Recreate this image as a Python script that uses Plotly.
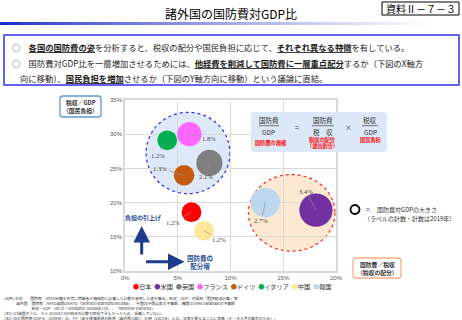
import plotly.graph_objects as go

# ---------------- data ----------------
countries = ["日本", "米国", "英国", "フランス", "ドイツ", "イタリア", "中国", "韓国"]
defense_to_tax = [6.3, 18.1, 8.0, 6.1, 5.6, 4.0, 7.5, 13.3]      # 国防費／税収 (%)
tax_to_gdp = [18.6, 18.9, 25.8, 30.0, 24.0, 29.1, 15.9, 20.0]     # 税収／GDP (%)
defense_to_gdp = [1.2, 3.4, 2.1, 1.8, 1.3, 1.2, 1.2, 2.7]         # 国防費／GDP (%)
colors = ["#ff0000", "#7030a0", "#7f7f7f", "#ff66ff", "#c55a11", "#00b050", "#ffe699", "#bdd7ee"]
x_ticks = [0, 5, 10, 15, 20]
y_ticks = [10, 15, 20, 25, 30, 35]

# label offsets (pixels, layout only)
label_dx = [-18, -10, -3, 20, -24, -9, 15, -4]
label_dy = [10, -19, 14, 4, -7, 15, 9, 18]

FONT = "Noto Sans CJK JP"
W, H = 462, 320
L, R, T, B = 125, 336, 100, 271


def px(xp):
    return (xp - L) / (R - L)


def py(yp):
    return (B - yp) / (B - T)


fig = go.Figure()
fig.add_trace(go.Scatter(
    x=defense_to_tax, y=tax_to_gdp, mode="markers",
    marker=dict(size=defense_to_gdp, sizemode="area", sizeref=1.2 / 196,
                color=colors, line=dict(width=0), opacity=1),
    text=countries, hoverinfo="text", showlegend=False,
))

shapes = []
annotations = []


def ann(text, x, y, size, color="#000000", xanchor="center", **kw):
    annotations.append(dict(text=text, x=px(x), y=py(y), xref="paper", yref="paper",
                            showarrow=False, xanchor=xanchor, yanchor="middle",
                            font=dict(family=FONT, size=size, color=color), **kw))


def rrect(x0, y0, x1, y1, r, line_color, fill="rgba(0,0,0,0)", width=1.2):
    p = (f"M {px(x0 + r)},{py(y0)} L {px(x1 - r)},{py(y0)} Q {px(x1)},{py(y0)} {px(x1)},{py(y0 + r)} "
         f"L {px(x1)},{py(y1 - r)} Q {px(x1)},{py(y1)} {px(x1 - r)},{py(y1)} "
         f"L {px(x0 + r)},{py(y1)} Q {px(x0)},{py(y1)} {px(x0)},{py(y1 - r)} "
         f"L {px(x0)},{py(y0 + r)} Q {px(x0)},{py(y0)} {px(x0 + r)},{py(y0)} Z")
    shapes.append(dict(type="path", path=p, xref="paper", yref="paper",
                       line=dict(color=line_color, width=width), fillcolor=fill, layer="above"))


# group ellipses (data coords)
shapes.append(dict(type="circle", xref="x", yref="y", x0=2.0, x1=9.95, y0=21.3, y1=33.2,
                   fillcolor="#dde8f8", line=dict(color="#2b2bff", width=1.2, dash="dot"), layer="below"))
shapes.append(dict(type="circle", xref="x", yref="y", x0=11.7, x1=19.9, y0=12.9, y1=24.1,
                   fillcolor="#fde9d2", line=dict(color="#ff2020", width=1.2, dash="dot"), layer="below"))

# ---------------- header ----------------
ann("諸外国の国防費対GDP比", 231, 13, 12)
shapes.append(dict(type="rect", xref="paper", yref="paper", x0=px(382), x1=px(459), y0=py(15), y1=py(2),
                   line=dict(color="#000000", width=1)))
ann("資料Ⅱ－７－３", 420.5, 8.8, 10)
# gradient bar
N = 44
for i in range(N):
    t = i / (N - 1)
    f = t ** 0.8
    r_ = int(25 + (255 - 25) * f)
    g_ = int(45 + (255 - 45) * f)
    b_ = int(200 + (255 - 200) * f)
    shapes.append(dict(type="rect", xref="paper", yref="paper", x0=px(i * 10), x1=px(i * 10 + 10.5),
                       y0=py(25), y1=py(22), line=dict(width=0), fillcolor=f"rgb({r_},{g_},{b_})"))

shapes.append(dict(type="rect", xref="paper", yref="paper", x0=px(4), x1=px(459), y0=py(85), y1=py(35),
                   line=dict(color="#3232e6", width=1.5)))
U = '<span style="text-decoration:underline">'
ann(f"○　<b>{U}各国の国防費の姿</span></b>を分析すると、税収の配分や国民負担に応じて、<b>{U}それぞれ異なる特徴</span></b>を有している。",
    10, 47, 8.3, "#1a1a1a", xanchor="left")
ann(f"○　国防費対GDP比を一層増加させるためには、<b>{U}他経費を削減して国防費に一層重点配分</span></b>するか（下図のX軸方",
    10, 62.5, 8.3, "#1a1a1a", xanchor="left")
ann(f"向に移動）、<b>{U}国民負担を増加</span></b>させるか（下図のY軸方向に移動）という議論に直結。",
    17.5, 77.5, 8.3, "#1a1a1a", xanchor="left")

# ---------------- axis title boxes ----------------
rrect(60, 96, 101, 117, 3, "#5b9bd5", "#ffffff", 1.3)
ann("<b>税収／GDP</b>", 80.5, 102.5, 5.8, "#333333")
ann("<b>（国民負担）</b>", 80.5, 110.5, 5.8, "#333333")
rrect(353, 258, 401, 278, 3, "#f4b183", "#ffffff", 1.3)
ann("<b>国防費／税収</b>", 377, 264.5, 5.8, "#333333")
ann("<b>（税収の配分）</b>", 377, 272.5, 5.8, "#333333")

# ---------------- formula box ----------------
rrect(251, 112, 387, 152, 3, "rgba(0,0,0,0)", "#dce8f7", 0)
ann("国防費", 268.5, 120, 6.5, "#333333")
ann("GDP", 268.5, 131.5, 6.5, "#333333")
ann("<b>国防費の規模</b>", 270.5, 142.5, 5.2, "#ff0000")
ann("=", 297, 126.5, 7, "#333333")
ann("国防費", 322.5, 120, 6.5, "#333333")
ann("税　収", 322.5, 131.5, 6.5, "#333333")
ann("<b>税収の配分</b>", 322.5, 139.5, 5.2, "#ff0000")
ann("<b>（歳出割合）</b>", 322.5, 146, 5.2, "#ff0000")
ann("×", 348.5, 126.5, 7, "#333333")
ann("税収", 370, 120, 6.5, "#333333")
ann("GDP", 370, 131.5, 6.5, "#333333")
ann("<b>国民負担</b>", 370, 140, 5.2, "#ff0000")
for (a, b) in [(259, 279), (312, 334), (362, 378)]:
    shapes.append(dict(type="line", xref="paper", yref="paper", x0=px(a), x1=px(b), y0=py(125.7), y1=py(125.7),
                       line=dict(color="#555555", width=0.8), layer="above"))

# ---------------- bubble size legend ----------------
shapes.append(dict(type="circle", xref="paper", yref="paper", xsizemode="pixel", ysizemode="pixel",
                   xanchor=px(355), yanchor=py(209.5), x0=-4.5, x1=4.5, y0=-4.5, y1=4.5,
                   line=dict(color="#000000", width=1.8)))
ann("=", 368, 209, 6.5, "#333333")
ann("国防費対GDPの大きさ", 375, 209, 6, "#333333", xanchor="left")
ann("（ラベルの計数・計数は2019年）", 362, 218.5, 6, "#333333", xanchor="left")

# ---------------- direction arrows ----------------
annotations.append(dict(text="", x=px(141.7), y=py(226), xref="paper", yref="paper",
                        ax=0, ay=30, axref="pixel", ayref="pixel", showarrow=True,
                        arrowhead=2, arrowsize=1.1, arrowwidth=3, arrowcolor="#1f3c8c"))
annotations.append(dict(text="", x=px(184.5), y=py(261.7), xref="paper", yref="paper",
                        ax=-40, ay=0, axref="pixel", ayref="pixel", showarrow=True,
                        arrowhead=2, arrowsize=1.1, arrowwidth=3, arrowcolor="#1f3c8c"))
ann("<b>負担の引上げ</b>", 142.5, 217, 6, "#1f4e9c")
ann("<b>国防費の</b><br><b>配分増</b>", 200, 261.8, 6.5, "#1f4e9c")

# ---------------- bubble labels ----------------
for i in range(len(countries)):
    annotations.append(dict(text=f"{defense_to_gdp[i]:.1f}%", x=defense_to_tax[i], y=tax_to_gdp[i],
                            xref="x", yref="y", ax=label_dx[i], ay=label_dy[i], showarrow=True,
                            arrowhead=0, arrowwidth=0.7, arrowcolor="#8c8c8c", standoff=0,
                            font=dict(family="Liberation Serif", size=6.5, color="#404040")))

# ---------------- country legend ----------------
legend_text = "  ".join(f'<span style="color:{c}">●</span>{n}' for n, c in zip(countries, colors))
ann(legend_text, 232.5, 286, 6.2, "#333333")

# ---------------- footer notes (one block) ----------------
footer_lines = [
    "(出所) 日本　　国防費：NATO定義を参考に防衛省が機械的に試算した計数を使用した値を算出。税収・GDP：内閣府「国民経済計算」等",
    "　　　 諸外国　国防費：NATO諸国はNATO「Defence expenditures data」、中国は中国公表の予算額、韓国はSIPRI Databaseの予算額",
    "　　　　　　　 税収・GDP：OECD「Economic Outlook 110」、「Revenue Statistics」",
    "(注1) G7諸国のうち、カナダはOECDの税収の計数が取得できなかったため、掲載していない。",
    "(注2) 日の国防費/GDP比（2019年）は、P.7（安全保障関連の経費（諸外国比較））の値（2021年）とは、年度が異なることに留意（データ入手の都合のため）。",
]
annotations.append(dict(text="<br>".join(footer_lines), x=px(2), y=py(293.5), xref="paper", yref="paper",
                        showarrow=False, xanchor="left", yanchor="top", align="left",
                        font=dict(family=FONT, size=3.8, color="#333333")))

fig.update_layout(
    width=W, height=H, margin=dict(l=L, r=W - R, t=T, b=H - B),
    paper_bgcolor="#ffffff", plot_bgcolor="#ffffff",
    shapes=shapes, annotations=annotations,
    font=dict(family=FONT),
    xaxis=dict(range=[0, 20], tickvals=x_ticks, ticktext=[f"{v}%" for v in x_ticks],
               showgrid=True, gridcolor="#d9d9d9", gridwidth=1, zeroline=False,
               showline=True, linecolor="#d9d9d9", linewidth=1.5, mirror=True,
               tickfont=dict(family="Liberation Sans", size=6, color="#595959"), ticks=""),
    yaxis=dict(range=[10, 35], tickvals=y_ticks, ticktext=[f"{v}%" for v in y_ticks],
               showgrid=True, gridcolor="#d9d9d9", gridwidth=1, zeroline=False,
               showline=True, linecolor="#d9d9d9", linewidth=1.5, mirror=True,
               tickfont=dict(family="Liberation Sans", size=6, color="#595959"), ticks=""),
)

fig.write_html("out.html")
